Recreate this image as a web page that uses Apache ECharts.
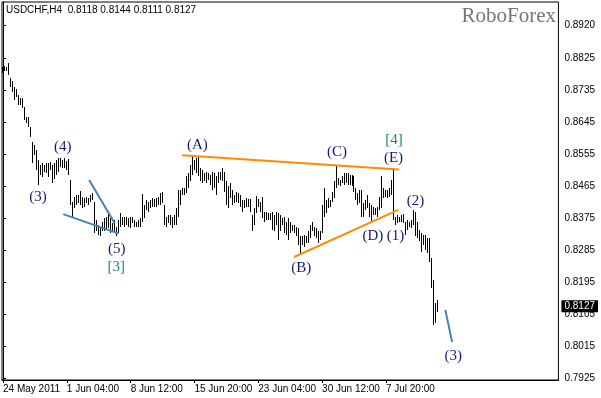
<!DOCTYPE html>
<html><head><meta charset="utf-8">
<script src="https://cdn.jsdelivr.net/npm/echarts@6/dist/echarts.min.js"></script>
<style>html,body{margin:0;padding:0;background:#fff}#c{width:601px;height:398px}</style>
</head><body><div id="c"></div>
<script>
const symbolName = 'USDCHF', timeframe = 'H4';
const lastBar = [0.8118, 0.8144, 0.8111, 0.8127]; // open high low close
const highs = [
0.8803,0.8805,0.8803,0.8812,0.8770,0.8762,0.8746,0.8740,0.8723,0.8715,
0.8715,0.8690,0.8662,0.8662,0.8633,0.8591,0.8582,0.8568,0.8540,0.8526,
0.8531,0.8526,0.8531,0.8531,0.8534,0.8526,0.8532,0.8540,0.8545,0.8545,
0.8540,0.8545,0.8537,0.8543,0.8483,0.8421,0.8436,0.8441,0.8441,0.8452,
0.8436,0.8433,0.8436,0.8433,0.8441,0.8447,0.8422,0.8371,0.8356,0.8352,
0.8366,0.8376,0.8380,0.8394,0.8376,0.8362,0.8371,0.8352,0.8371,0.8390,
0.8380,0.8380,0.8380,0.8376,0.8380,0.8380,0.8371,0.8366,0.8371,0.8376,
0.8444,0.8413,0.8427,0.8422,0.8427,0.8433,0.8430,0.8433,0.8436,0.8447,
0.8450,0.8413,0.8380,0.8385,0.8385,0.8380,0.8385,0.8404,0.8455,0.8455,
0.8460,0.8460,0.8493,0.8503,0.8526,0.8551,0.8540,0.8545,0.8549,0.8516,
0.8511,0.8503,0.8507,0.8503,0.8497,0.8507,0.8503,0.8493,0.8507,0.8507,
0.8516,0.8507,0.8479,0.8465,0.8474,0.8455,0.8441,0.8450,0.8446,0.8441,
0.8427,0.8427,0.8432,0.8429,0.8429,0.8385,0.8404,0.8439,0.8429,0.8422,
0.8436,0.8394,0.8394,0.8390,0.8390,0.8394,0.8385,0.8394,0.8390,0.8385,
0.8375,0.8380,0.8366,0.8375,0.8366,0.8356,0.8356,0.8352,0.8347,0.8326,
0.8324,0.8328,0.8324,0.8338,0.8356,0.8366,0.8352,0.8347,0.8338,0.8338,
0.8413,0.8460,0.8427,0.8432,0.8427,0.8450,0.8479,0.8526,0.8488,0.8483,
0.8493,0.8502,0.8504,0.8502,0.8497,0.8497,0.8493,0.8460,0.8446,0.8455,
0.8455,0.8418,0.8427,0.8441,0.8418,0.8413,0.8408,0.8404,0.8408,0.8436,
0.8493,0.8460,0.8455,0.8455,0.8460,0.8483,0.8516,0.8380,0.8385,0.8380,
0.8385,0.8387,0.8366,0.8371,0.8366,0.8371,0.8399,0.8394,0.8366,0.8342,
0.8333,0.8328,0.8328,0.8319,0.8319,0.8263,0.8201,0.8137,0.8144
];
const lows = [
0.8784,0.8789,0.8789,0.8779,0.8746,0.8732,0.8709,0.8718,0.8695,0.8695,
0.8685,0.8652,0.8643,0.8633,0.8605,0.8530,0.8554,0.8511,0.8469,0.8497,
0.8492,0.8507,0.8503,0.8492,0.8511,0.8474,0.8486,0.8497,0.8507,0.8521,
0.8517,0.8517,0.8511,0.8497,0.8413,0.8380,0.8404,0.8413,0.8418,0.8413,
0.8404,0.8408,0.8418,0.8413,0.8422,0.8427,0.8333,0.8338,0.8328,0.8324,
0.8338,0.8338,0.8342,0.8347,0.8333,0.8338,0.8333,0.8324,0.8333,0.8352,
0.8356,0.8352,0.8356,0.8352,0.8347,0.8362,0.8352,0.8352,0.8352,0.8352,
0.8366,0.8376,0.8399,0.8394,0.8404,0.8408,0.8408,0.8408,0.8413,0.8413,
0.8418,0.8356,0.8352,0.8362,0.8356,0.8347,0.8356,0.8356,0.8380,0.8413,
0.8441,0.8441,0.8447,0.8460,0.8479,0.8497,0.8511,0.8503,0.8493,0.8479,
0.8474,0.8479,0.8474,0.8483,0.8469,0.8455,0.8460,0.8441,0.8474,0.8483,
0.8479,0.8450,0.8413,0.8404,0.8432,0.8413,0.8418,0.8422,0.8418,0.8408,
0.8394,0.8404,0.8408,0.8408,0.8394,0.8338,0.8356,0.8390,0.8408,0.8394,
0.8375,0.8366,0.8371,0.8371,0.8371,0.8342,0.8338,0.8356,0.8314,0.8338,
0.8356,0.8333,0.8328,0.8314,0.8333,0.8338,0.8333,0.8324,0.8300,0.8272,
0.8300,0.8295,0.8305,0.8305,0.8319,0.8338,0.8324,0.8319,0.8305,0.8314,
0.8333,0.8380,0.8390,0.8404,0.8408,0.8422,0.8432,0.8460,0.8469,0.8465,
0.8474,0.8469,0.8474,0.8469,0.8469,0.8465,0.8450,0.8427,0.8413,0.8418,
0.8380,0.8380,0.8399,0.8404,0.8380,0.8362,0.8385,0.8385,0.8380,0.8399,
0.8404,0.8432,0.8436,0.8432,0.8436,0.8441,0.8371,0.8356,0.8362,0.8366,
0.8366,0.8362,0.8328,0.8342,0.8352,0.8347,0.8356,0.8324,0.8319,0.8310,
0.8281,0.8300,0.8286,0.8277,0.8253,0.8179,0.8074,0.8080,0.8111
];
const xTickIdx = [0, 32, 64, 96, 128, 160, 192];
const xTickLabels = ['24 May 2011', '1 Jun 04:00', '8 Jun 12:00', '15 Jun 20:00', '23 Jun 04:00', '30 Jun 12:00', '7 Jul 20:00'];
const yTicks = [0.7925, 0.8015, 0.8105, 0.8195, 0.8285, 0.8375, 0.8465, 0.8555, 0.8645, 0.8735, 0.8825, 0.8920];
const orangeTop = [[89.8, 0.8553], [198.5, 0.8513]];
const orangeBottom = [[146, 0.8266], [198.2, 0.8399]];
const blueLower = [[30.2, 0.8387], [58, 0.8332]];
const blueUpper = [[43.2, 0.8483], [56, 0.8361]];
const blueRight = [[221.8, 0.8117], [225.2, 0.8026]];
const waveNames = ['(3)', '(4)', '(5)', '(A)', '(B)', '(C)', '(D)', '(E)', '(1)', '(2)', '(3)'];
const waveX = [17.5, 30, 57, 97.5, 149.5, 167.5, 185.5, 195.8, 196.8, 206.8, 225.8];
const waveY = [0.8434, 0.8576, 0.8289, 0.8582, 0.8236, 0.8561, 0.8325, 0.8545, 0.8325, 0.8424, 0.7986];
const degreeNames = ['[3]', '[4]'];
const degreeX = [56.8, 196];
const degreeY = [0.8239, 0.8596];

const FONT = 'Liberation Sans';
const chart = echarts.init(document.getElementById('c'), null, {renderer: 'canvas'});
const barData = highs.map((h, i) => [i, h, lows[i]]);
function trend(data, color) {
  return {type: 'line', data: data, symbol: 'none', silent: true, z: 3,
    lineStyle: {color: color, width: 2}};
}
function labels(names, xs, ys, color) {
  return {type: 'scatter', symbolSize: 1, itemStyle: {color: 'rgba(0,0,0,0)', opacity: 1}, silent: true, z: 4,
    data: names.map((n, i) => ({name: n, value: [xs[i], ys[i]]})),
    label: {show: true, position: 'inside', formatter: p => p.name, color: color, opacity: 1,
      fontFamily: 'Liberation Serif', fontSize: 15}};
}
const yMin = 0.791936, yMax = 0.898483;
chart.setOption({
  animation: false,
  backgroundColor: '#fff',
  grid: {left: 2, top: 2, right: 41, bottom: 18, show: true, borderColor: '#000', borderWidth: 1},
  xAxis: {type: 'value', min: -0.5, max: 278.5, position: 'bottom',
    axisLine: {show: true, lineStyle: {color: '#000'}},
    axisTick: {show: true, customValues: xTickIdx, length: 3, lineStyle: {color: '#000'}},
    axisLabel: {customValues: xTickIdx, formatter: v => xTickLabels[xTickIdx.indexOf(v)] || '',
      align: 'left', margin: 4, color: '#000', fontFamily: FONT, fontSize: 10},
    splitLine: {show: false}},
  yAxis: [
    {type: 'value', position: 'right', min: yMin, max: yMax,
      axisLine: {show: true, lineStyle: {color: '#000'}},
      axisTick: {show: true, customValues: yTicks, length: 3, lineStyle: {color: '#000'}},
      axisLabel: {customValues: yTicks, formatter: v => v.toFixed(4), margin: 6, color: '#000',
        fontFamily: FONT, fontSize: 10},
      splitLine: {show: false}},
    {type: 'value', position: 'right', min: yMin, max: yMax, z: 5,
      axisLine: {show: false}, axisTick: {show: false}, splitLine: {show: false},
      axisLabel: {customValues: [lastBar[3]], formatter: v => v.toFixed(4), margin: 3,
        color: '#fff', backgroundColor: '#000', padding: [1, 3, 1, 3],
        fontFamily: FONT, fontSize: 10}}
  ],
  graphic: [
    {type: 'text', left: 6, top: 5, z: 10,
      style: {text: symbolName + ',' + timeframe + '  ' + lastBar.map(v => v.toFixed(4)).join(' '),
        font: '10px "Liberation Sans"', fill: '#000'}},
    {type: 'text', right: 45, top: 6, z: 10,
      style: {text: 'RoboForex', font: '21px "Liberation Serif"', fill: '#777'}}
  ],
  series: [
    {type: 'custom', data: barData, encode: {x: 0, y: [1, 2]}, silent: true, z: 2,
      renderItem: (params, api) => {
        const i = api.value(0);
        const a = api.coord([i, api.value(1)]);
        const b = api.coord([i, api.value(2)]);
        const x = Math.floor(a[0]) + 0.5;
        const y1 = Math.round(a[1]);
        const y2 = Math.max(Math.round(b[1]), y1 + 1);
        return {type: 'line', shape: {x1: x, y1: y1, x2: x, y2: y2},
          style: {stroke: '#000', lineWidth: 1}};
      }},
    trend(orangeTop, '#FF8C00'),
    trend(orangeBottom, '#FF8C00'),
    trend(blueLower, '#4682B4'),
    trend(blueUpper, '#4682B4'),
    trend(blueRight, '#4682B4'),
    labels(waveNames, waveX, waveY, '#191970'),
    labels(degreeNames, degreeX, degreeY, '#108a70')
  ]
});
</script></body></html>
